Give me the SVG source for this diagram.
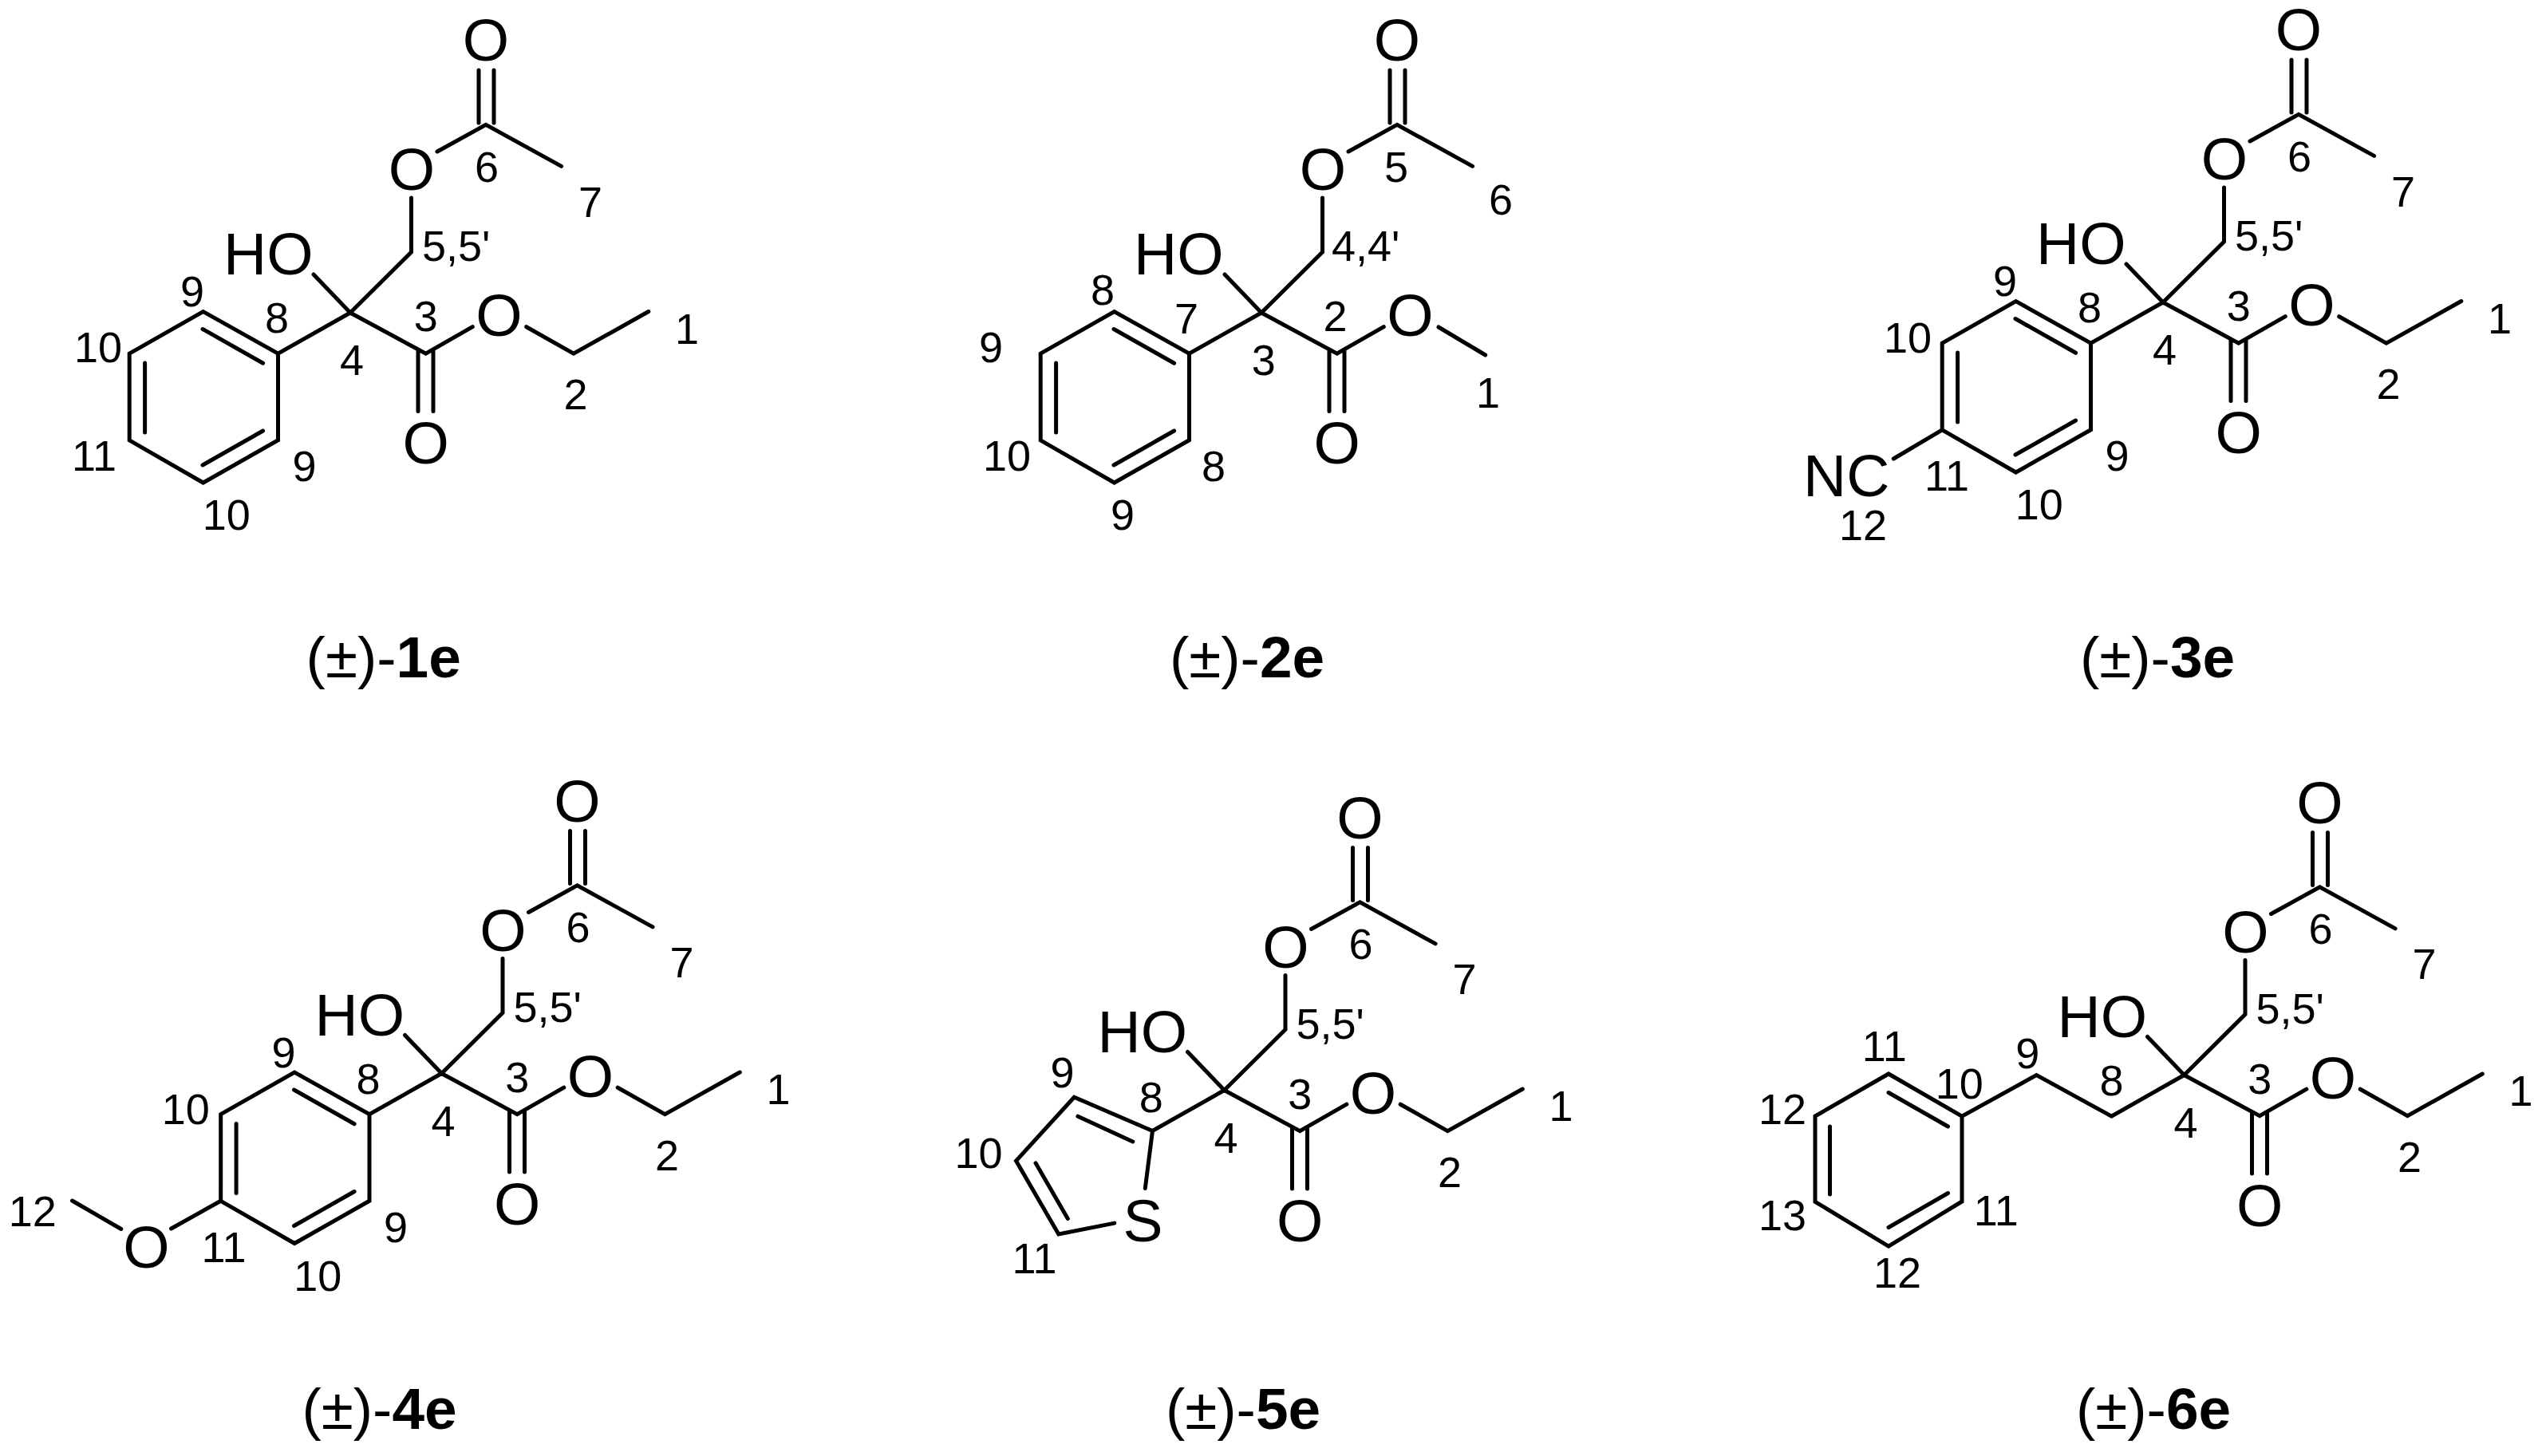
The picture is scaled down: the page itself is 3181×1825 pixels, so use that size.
<svg xmlns="http://www.w3.org/2000/svg" width="3181" height="1825" viewBox="0 0 3181 1825">
<style>
text{font-family:"Liberation Sans",Arial,sans-serif;fill:#000}
.a{font-size:75px;text-anchor:middle}
.s{font-size:75px}
.n{font-size:54px;text-anchor:middle}
.l{font-size:54px}
.t{font-size:73px;text-anchor:middle}
.t tspan{font-weight:bold}
#connectors path{fill:none;stroke:#000;stroke-width:5;stroke-linecap:round;stroke-linejoin:miter}
</style>
<rect width="3181" height="1825" fill="#fff"/>
<g id="connectors">
<g id="bonds-1e" transform="translate(439 392)">
<path d="M-46 -48L0 0L76.5 -76V-144M109 -202L170 -235.7L264.6 -183.6M161 -238V-304M180 -238V-304M0 0L94.7 51.2L153.3 17.7M220.7 17.7L279.9 51.2L373.8 -1.5M85 46V123.6M104 46V123.6"/>
<path d="M0 0L-90.5 51.2L-184.4 -1.5L-276.8 51.2V159.8L-184.4 213L-90.5 159.8V51.2M-185 20.5L-109.4 63.3M-257.4 63V150M-185 191L-109.4 148"/>
</g>
<g id="bonds-2e" transform="translate(1581 392)">
<path d="M-46 -48L0 0L76.5 -76V-144M109 -202L170 -235.7L264.6 -183.6M161 -238V-304M180 -238V-304M0 0L94.7 51.2L153.3 17.7M222 18L280.7 53M85 46V123.6M104 46V123.6"/>
<path d="M0 0L-90.5 51.2L-184.4 -1.5L-276.8 51.2V159.8L-184.4 213L-90.5 159.8V51.2M-185 20.5L-109.4 63.3M-257.4 63V150M-185 191L-109.4 148"/>
</g>
<g id="bonds-3e" transform="translate(2711 379)">
<path d="M-46 -48L0 0L76.5 -76V-144M109 -202L170 -235.7L264.6 -183.6M161 -238V-304M180 -238V-304M0 0L94.7 51.2L153.3 17.7M220.7 17.7L279.9 51.2L373.8 -1.5M85 46V123.6M104 46V123.6"/>
<path d="M0 0L-90.5 51.2L-184.4 -1.5L-276.8 51.2V159.8L-184.4 213L-90.5 159.8V51.2M-185 20.5L-109.4 63.3M-257.4 63V150M-185 191L-109.4 148M-276.8 159.8L-337.7 196"/>
</g>
<g id="bonds-4e" transform="translate(553.5 1345.5)">
<path d="M-46 -48L0 0L76.5 -76V-144M109 -202L170 -235.7L264.6 -183.6M161 -238V-304M180 -238V-304M0 0L94.7 51.2L153.3 17.7M220.7 17.7L279.9 51.2L373.8 -1.5M85 46V123.6M104 46V123.6"/>
<path d="M0 0L-90.5 51.2L-184.4 -1.5L-276.8 51.2V159.8L-184.4 213L-90.5 159.8V51.2M-185 20.5L-109.4 63.3M-257.4 63V150M-185 191L-109.4 148M-276.8 159.8L-339 194.5M-401.7 195L-463 159.5"/>
</g>
<g id="bonds-5e" transform="translate(1534.5 1366.5)">
<path d="M-46 -48L0 0L76.5 -76V-144M109 -202L170 -235.7L264.6 -183.6M161 -238V-304M180 -238V-304M0 0L94.7 51.2L153.3 17.7M220.7 17.7L279.9 51.2L373.8 -1.5M85 46V123.6M104 46V123.6"/>
<path d="M0 0L-90 51L-188.2 8.7L-261 88.5L-207.7 180.5L-137.7 166.6M-90 51L-99.2 123M-183.6 32.7L-114.7 64.5M-236.5 91.3L-196.2 161"/>
</g>
<g id="bonds-6e" transform="translate(2737.5 1347.5)">
<path d="M-46 -48L0 0L76.5 -76V-144M109 -202L170 -235.7L264.6 -183.6M161 -238V-304M180 -238V-304M0 0L94.7 51.2L153.3 17.7M220.7 17.7L279.9 51.2L373.8 -1.5M85 46V123.6M104 46V123.6"/>
<path d="M0 0L-91 51.7L-185 0L-278.5 51.7L-370.5 -1.5L-462.5 51.5V158.8L-370.5 214.6L-278.5 158.5V51.7M-370.5 22L-296 64.5M-444 64.5V149.5M-370.5 191L-296 148"/>
</g>
</g>
<g id="compound-1e" transform="translate(439 392)">
<text class="s" x="-159" y="-48">HO</text>
<text class="a" x="76.8" y="-154">O</text><text class="a" x="170" y="-315.6">O</text><text class="a" x="186.5" y="29">O</text><text class="a" x="94.7" y="189">O</text>
<text class="n" x="422" y="38.6">1</text><text class="n" x="282.4" y="121">2</text><text class="n" x="94.7" y="23">3</text><text class="n" x="2" y="78">4</text>
<text class="l" x="90" y="-65">5,5'</text><text class="n" x="171" y="-164.4">6</text><text class="n" x="301" y="-120.5">7</text>
<text class="n" x="-92" y="25">8</text><text class="n" x="-198" y="-8">9</text><text class="n" x="-57.4" y="211">9</text><text class="n" x="-316" y="62">10</text><text class="n" x="-155.3" y="272">10</text><text class="n" x="-321" y="198">11</text>
<text class="t" x="41.7" y="457">(±)-<tspan>1e</tspan></text>
</g>
<g id="compound-2e" transform="translate(1581 392)">
<text class="s" x="-160" y="-48">HO</text>
<text class="a" x="76.8" y="-154">O</text><text class="a" x="170" y="-315.6">O</text><text class="a" x="186.5" y="29">O</text><text class="a" x="94.7" y="189">O</text>
<text class="n" x="284" y="119">1</text><text class="n" x="92.5" y="23">2</text><text class="n" x="2.7" y="78">3</text>
<text class="l" x="88" y="-65">4,4'</text><text class="n" x="169" y="-164.4">5</text><text class="n" x="300" y="-123">6</text>
<text class="n" x="-94" y="26">7</text><text class="n" x="-199" y="-10">8</text><text class="n" x="-60" y="211">8</text><text class="n" x="-339" y="62">9</text><text class="n" x="-174" y="272">9</text><text class="n" x="-319" y="198">10</text>
<text class="t" x="-18" y="457">(±)-<tspan>2e</tspan></text>
</g>
<g id="compound-3e" transform="translate(2711 379)">
<text class="s" x="-159" y="-48">HO</text><text class="s" x="-451" y="242.5">NC</text>
<text class="a" x="76.8" y="-154">O</text><text class="a" x="170" y="-315.6">O</text><text class="a" x="186.5" y="29">O</text><text class="a" x="94.7" y="189">O</text>
<text class="n" x="422" y="38.6">1</text><text class="n" x="282.4" y="121">2</text><text class="n" x="94.7" y="23">3</text><text class="n" x="2" y="78">4</text>
<text class="l" x="90" y="-65">5,5'</text><text class="n" x="171" y="-164.4">6</text><text class="n" x="301" y="-120.5">7</text>
<text class="n" x="-92" y="25">8</text><text class="n" x="-198" y="-8">9</text><text class="n" x="-57.4" y="211">9</text><text class="n" x="-320" y="62.5">10</text><text class="n" x="-155.3" y="272">10</text><text class="n" x="-271" y="236.4">11</text><text class="n" x="-376" y="298">12</text>
<text class="t" x="-7" y="470">(±)-<tspan>3e</tspan></text>
</g>
<g id="compound-4e" transform="translate(553.5 1345.5)">
<text class="s" x="-159" y="-48">HO</text><text class="a" x="-370" y="243.5">O</text>
<text class="a" x="76.8" y="-154">O</text><text class="a" x="170" y="-315.6">O</text><text class="a" x="186.5" y="29">O</text><text class="a" x="94.7" y="189">O</text>
<text class="n" x="422" y="38.6">1</text><text class="n" x="282.4" y="121">2</text><text class="n" x="94.7" y="23">3</text><text class="n" x="2" y="78">4</text>
<text class="l" x="90" y="-65">5,5'</text><text class="n" x="171" y="-164.4">6</text><text class="n" x="301" y="-120.5">7</text>
<text class="n" x="-92" y="25">8</text><text class="n" x="-198" y="-8">9</text><text class="n" x="-57.4" y="211">9</text><text class="n" x="-320.7" y="63">10</text><text class="n" x="-155.3" y="272">10</text><text class="n" x="-273" y="236">11</text><text class="n" x="-512.7" y="191.5">12</text>
<text class="t" x="-78" y="445.5">(±)-<tspan>4e</tspan></text>
</g>
<g id="compound-5e" transform="translate(1534.5 1366.5)">
<text class="s" x="-159" y="-48">HO</text><text class="a" x="-102" y="189">S</text>
<text class="a" x="76.8" y="-154">O</text><text class="a" x="170" y="-315.6">O</text><text class="a" x="186.5" y="29">O</text><text class="a" x="94.7" y="189">O</text>
<text class="n" x="422" y="38.6">1</text><text class="n" x="282.4" y="121">2</text><text class="n" x="94.7" y="23">3</text><text class="n" x="2" y="78">4</text>
<text class="l" x="90" y="-65">5,5'</text><text class="n" x="171" y="-164.4">6</text><text class="n" x="301" y="-120.5">7</text>
<text class="n" x="-91.8" y="27">8</text><text class="n" x="-203" y="-3.5">9</text><text class="n" x="-308" y="97">10</text><text class="n" x="-238" y="229">11</text>
<text class="t" x="23.5" y="424.5">(±)-<tspan>5e</tspan></text>
</g>
<g id="compound-6e" transform="translate(2737.5 1347.5)">
<text class="s" x="-159" y="-48">HO</text>
<text class="a" x="76.8" y="-154">O</text><text class="a" x="170" y="-315.6">O</text><text class="a" x="186.5" y="29">O</text><text class="a" x="94.7" y="189">O</text>
<text class="n" x="422" y="38.6">1</text><text class="n" x="282.4" y="121">2</text><text class="n" x="94.7" y="23">3</text><text class="n" x="2" y="78">4</text>
<text class="l" x="90" y="-65">5,5'</text><text class="n" x="171" y="-164.4">6</text><text class="n" x="301" y="-120.5">7</text>
<text class="n" x="-91" y="25">8</text><text class="n" x="-196.3" y="-8.5">9</text><text class="n" x="-281.8" y="29.4">10</text><text class="n" x="-375.8" y="-18">11</text><text class="n" x="-235.7" y="188.5">11</text><text class="n" x="-503.5" y="61">12</text><text class="n" x="-359.5" y="266.5">12</text><text class="n" x="-503.5" y="194">13</text>
<text class="t" x="-38.5" y="443.5">(±)-<tspan>6e</tspan></text>
</g>
</svg>
